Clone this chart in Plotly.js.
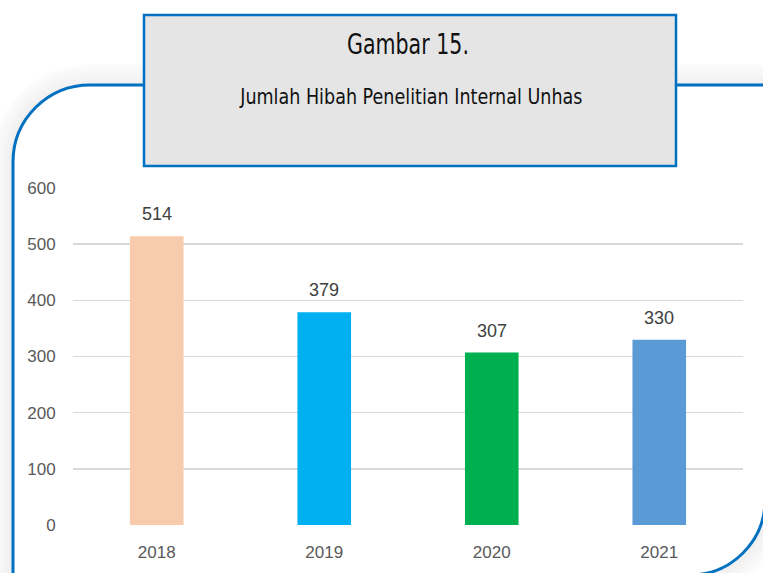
<!DOCTYPE html>
<html><head><meta charset="utf-8">
<script src="https://cdn.plot.ly/plotly-3.0.1.min.js"></script>
<style>html,body{margin:0;padding:0;background:#fff}#c{width:763px;height:573px}</style>
</head><body><div id="c"></div>
<script>
const years = ['2018', '2019', '2020', '2021'];
const hibah = [514, 379, 307, 330];
const barColors = ['#f8cbad', '#00b0f0', '#00b050', '#5b9bd5'];
const yTicks = [0, 100, 200, 300, 400, 500, 600];
const titleMain = 'Gambar 15.';
const titleSub = 'Jumlah Hibah Penelitian Internal Unhas';

const L = 73, R = 743, T = 188, B = 525;
const X = px => (px - L) / (R - L);
const Y = py => (B - py) / (B - T);
function path(pts) {
  return pts.map(p => p[0] + p.slice(1).reduce((s, v, i) => {
    const val = i % 2 === 0 ? X(v) : Y(v);
    return s + (i ? (i % 2 ? ',' : ' ') : '') + val.toFixed(5);
  }, '')).join(' ');
}
const k = 0.5523;
function framePath(off) {
  const l = 13 - off, t = 85 - off, r = 765 + off, b = 575 + off;
  const r1 = 77 + off, r2 = 75 + off;
  return path([
    ['M', l, 620], ['L', l, t + r1],
    ['C', l, t + r1 - r1 * k, l + r1 - r1 * k, t, l + r1, t],
    ['L', r, t], ['L', r, b - r2],
    ['C', r, b - r2 + r2 * k, r - r2 + r2 * k, b, r - r2, b],
    ['L', l, b]
  ]);
}
const shapes = [];
for (let off = 20; off >= 2; off -= 2) {
  const o = 0.012 + 0.05 * (1 - off / 20);
  shapes.push({type: 'path', xref: 'paper', yref: 'paper', path: framePath(off),
    line: {color: 'rgba(0,0,0,' + o.toFixed(3) + ')', width: 2.2}, layer: 'above'});
}
shapes.push({type: 'path', xref: 'paper', yref: 'paper', path: framePath(0),
  line: {color: '#0070c0', width: 3}, layer: 'above'});
shapes.push({type: 'rect', xref: 'paper', yref: 'paper', x0: X(144), x1: X(676), y0: Y(166), y1: Y(15),
  fillcolor: '#e5e5e5', line: {color: '#0070c0', width: 2.5}, layer: 'above'});

const tf = 'DejaVu Sans, sans-serif';
const data = [{
  type: 'bar', x: years, y: hibah, marker: {color: barColors}, hoverinfo: 'skip'
}];
// value labels: x given as category index so the axis is not stretched
const labelAnns = years.map((yr, i) => ({
  x: i, y: hibah[i], xref: 'x', yref: 'y', text: String(hibah[i]), showarrow: false,
  xanchor: 'center', yanchor: 'middle', yshift: 22,
  font: {family: 'Liberation Sans, sans-serif', size: 18, color: '#404040'}
}));
const layout = {
  width: 763, height: 573,
  margin: {l: L, r: 763 - R, t: T, b: 573 - B},
  paper_bgcolor: '#ffffff', plot_bgcolor: '#ffffff',
  bargap: 0.68, showlegend: false,
  xaxis: {type: 'category', range: [-0.5, years.length - 0.5], showgrid: false, zeroline: false, showline: false,
    ticks: 'outside', ticklen: 12, tickcolor: 'rgba(0,0,0,0)',
    tickfont: {family: 'Liberation Sans, sans-serif', size: 17, color: '#595959'}},
  yaxis: {range: [0, 600], tickvals: yTicks, ticktext: yTicks.map(String),
    showgrid: true, gridcolor: '#d9d9d9', gridwidth: 1.5, zeroline: false, showline: false,
    ticks: 'outside', ticklen: 13, tickcolor: 'rgba(0,0,0,0)',
    tickfont: {family: 'Liberation Sans, sans-serif', size: 17, color: '#595959'}},
  shapes: shapes,
  annotations: [
    {xref: 'paper', yref: 'paper', x: X(408), y: Y(44), text: titleMain, showarrow: false,
      font: {family: tf, size: 29, color: '#111111'}, xanchor: 'center', yanchor: 'middle'},
    {xref: 'paper', yref: 'paper', x: X(410), y: Y(97), text: titleSub, showarrow: false,
      font: {family: tf, size: 22, color: '#111111'}, xanchor: 'center', yanchor: 'middle'}
  ].concat(labelAnns)
};
Plotly.newPlot('c', data, layout, {displayModeBar: false, staticPlot: true}).then(gd => {
  // condense the title texts horizontally to mimic the narrow title face
  const targets = [122, 344];
  const texts = gd.querySelectorAll('.annotation-text');
  [0, 1].forEach(i => {
    const t = texts[i];
    if (!t) return;
    const bb = t.getBBox();
    const s = targets[i] / bb.width;
    const cx = bb.x + bb.width / 2;
    const prev = t.getAttribute('transform') || '';
    t.setAttribute('transform', prev + ' translate(' + cx + ',0) scale(' + s + ',1) translate(' + (-cx) + ',0)');
  });
});
</script></body></html>
